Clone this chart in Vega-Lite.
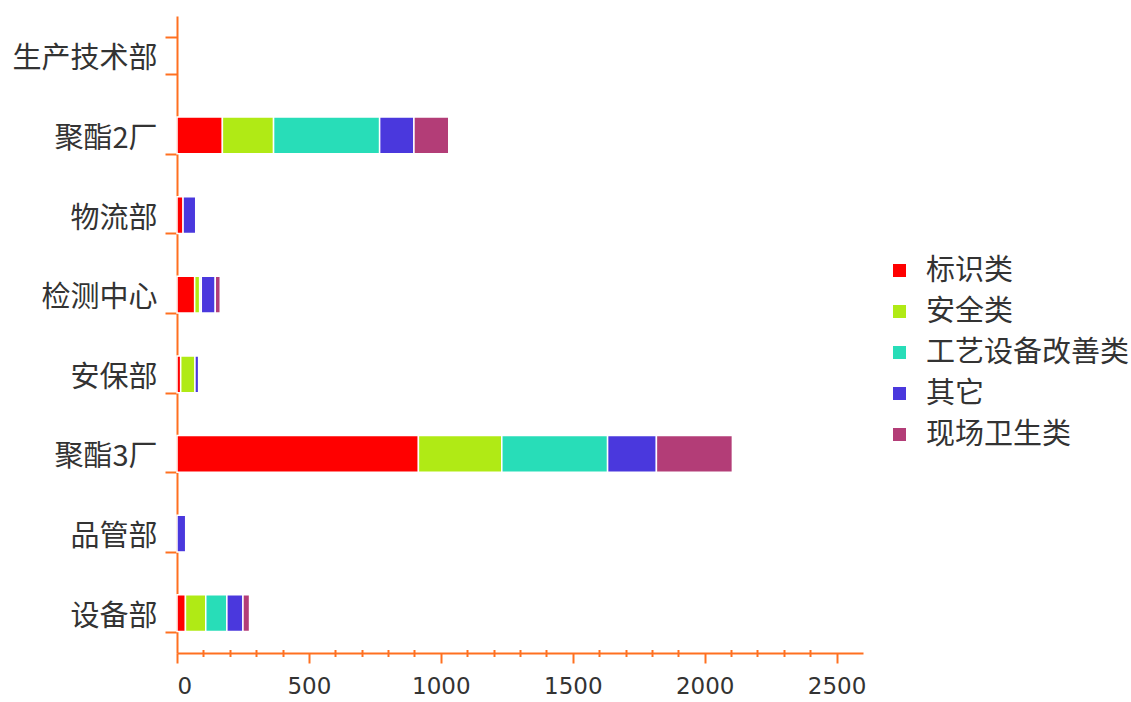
{
  "$schema": "https://vega.github.io/schema/vega-lite/v6.json",
  "width": 686,
  "height": 637,
  "autosize": {"type": "none"},
  "padding": {"left": 177, "top": 16, "right": 268, "bottom": 49},
  "background": "white",
  "config": {"view": {"stroke": null}, "font": "Noto Sans CJK SC"},
  "layer": [
    {
      "data": {
        "values": [
          {"部门": "聚酯2厂", "类别": "标识类", "数量": 172},
          {"部门": "聚酯2厂", "类别": "安全类", "数量": 194},
          {"部门": "聚酯2厂", "类别": "工艺设备改善类", "数量": 402},
          {"部门": "聚酯2厂", "类别": "其它", "数量": 130},
          {"部门": "聚酯2厂", "类别": "现场卫生类", "数量": 132},
          {"部门": "物流部", "类别": "标识类", "数量": 23},
          {"部门": "物流部", "类别": "其它", "数量": 48},
          {"部门": "检测中心", "类别": "标识类", "数量": 67},
          {"部门": "检测中心", "类别": "安全类", "数量": 19},
          {"部门": "检测中心", "类别": "工艺设备改善类", "数量": 6},
          {"部门": "检测中心", "类别": "其它", "数量": 53},
          {"部门": "检测中心", "类别": "现场卫生类", "数量": 19},
          {"部门": "安保部", "类别": "标识类", "数量": 14},
          {"部门": "安保部", "类别": "安全类", "数量": 54},
          {"部门": "安保部", "类别": "其它", "数量": 14},
          {"部门": "聚酯3厂", "类别": "标识类", "数量": 915},
          {"部门": "聚酯3厂", "类别": "安全类", "数量": 316},
          {"部门": "聚酯3厂", "类别": "工艺设备改善类", "数量": 401},
          {"部门": "聚酯3厂", "类别": "其它", "数量": 185},
          {"部门": "聚酯3厂", "类别": "现场卫生类", "数量": 288},
          {"部门": "品管部", "类别": "其它", "数量": 33},
          {"部门": "设备部", "类别": "标识类", "数量": 32},
          {"部门": "设备部", "类别": "安全类", "数量": 77},
          {"部门": "设备部", "类别": "工艺设备改善类", "数量": 80},
          {"部门": "设备部", "类别": "其它", "数量": 61},
          {"部门": "设备部", "类别": "现场卫生类", "数量": 25}
        ]
      },
      "transform": [
        {"calculate": "indexof(['标识类','安全类','工艺设备改善类','其它','现场卫生类'], datum['类别'])", "as": "序"}
      ],
      "mark": {"type": "bar", "stroke": "white", "strokeWidth": 1.5},
      "encoding": {
        "y": {
          "field": "部门",
          "type": "nominal",
          "scale": {
            "domain": ["生产技术部", "聚酯2厂", "物流部", "检测中心", "安保部", "聚酯3厂", "品管部", "设备部"],
            "paddingInner": 0.54,
            "paddingOuter": 0.27
          },
          "axis": {
            "title": null,
            "tickBand": "extent",
            "tickSize": 12,
            "tickWidth": 2,
            "tickColor": "#FF7020",
            "domainColor": "#FF7020",
            "domainWidth": 2,
            "labelFontSize": 29,
            "labelColor": "#333333",
            "labelPadding": 8,
            "labelOffset": 3,
            "grid": false
          }
        },
        "x": {
          "field": "数量",
          "type": "quantitative",
          "stack": "zero",
          "scale": {"domain": [0, 2600], "nice": false},
          "axis": {
            "orient": "bottom",
            "title": null,
            "values": [0, 500, 1000, 1500, 2000, 2500],
            "format": "d",
            "tickSize": 10,
            "tickWidth": 2,
            "tickColor": "#FF7020",
            "domainColor": "#FF7020",
            "domainWidth": 2,
            "labelFontSize": 23,
            "labelFont": "DejaVu Sans",
            "labelColor": "#333333",
            "labelPadding": 12,
            "grid": false
          }
        },
        "color": {
          "field": "类别",
          "type": "nominal",
          "scale": {
            "domain": ["标识类", "安全类", "工艺设备改善类", "其它", "现场卫生类"],
            "range": ["#FF0000", "#B0EA15", "#28DDB8", "#4A38DD", "#B33D77"]
          },
          "legend": {
            "title": null,
            "orient": "none",
            "legendX": 708,
            "legendY": 240,
            "symbolType": "square",
            "symbolSize": 170,
            "symbolStrokeWidth": 0,
            "labelFontSize": 29,
            "labelColor": "#333333",
            "labelOffset": 12,
            "labelLimit": 0,
            "rowPadding": 11
          }
        },
        "order": {"field": "序", "type": "quantitative"}
      }
    },
    {
      "data": {"values": [{"v": 0}]},
      "mark": {"type": "point", "opacity": 0},
      "encoding": {
        "x": {
          "field": "v",
          "type": "quantitative",
          "axis": {
            "orient": "bottom",
            "title": null,
            "values": [100, 200, 300, 400, 600, 700, 800, 900, 1100, 1200, 1300, 1400, 1600, 1700, 1800, 1900, 2100, 2200, 2300, 2400],
            "labels": false,
            "domain": false,
            "tickSize": 7,
            "tickWidth": 2,
            "tickColor": "#FF7020",
            "offset": -3.5,
            "grid": false
          }
        }
      }
    }
  ],
  "resolve": {"axis": {"x": "independent"}}
}
